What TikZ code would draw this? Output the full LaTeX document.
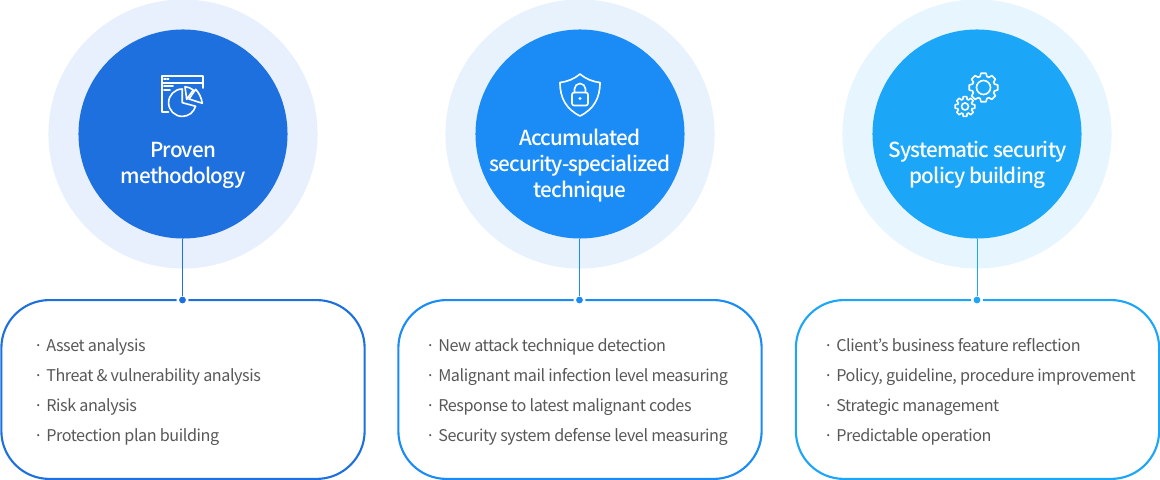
\documentclass[tikz,border=0pt]{standalone}
\usepackage{fontspec}
\setmainfont[LetterSpace=-2.7]{Noto Sans CJK KR}
\newfontfamily\ttlfont[LetterSpace=-4]{Noto Sans CJK KR Medium}
\usetikzlibrary{positioning,calc}
\definecolor{ink}{HTML}{585858}
\definecolor{cblue}{HTML}{1F70DF}
\definecolor{cazure}{HTML}{1B8CF6}
\definecolor{csky}{HTML}{1BA6F8}
\definecolor{hblue}{HTML}{E7F0FC}
\definecolor{hazure}{HTML}{E7F2FD}
\definecolor{hsky}{HTML}{E6F5FE}
\tikzset{
  halo/.style={circle, draw=none, minimum size=6.725cm, inner sep=0pt},
  disc/.style={circle, draw=none, minimum size=5.225cm, inner sep=0pt},
  ttl/.style={text=white, align=center, inner sep=0pt, font=\ttlfont\fontsize{14.7}{18.5}\selectfont},
  card/.style={draw, fill=white, line width=1.5pt, rounded corners=1.2cm, minimum width=9.08cm,
               minimum height=4.47cm, inner sep=0pt},
  lst/.style={text=ink, align=left, anchor=west, inner sep=0pt, font=\fontsize{11.5}{21.33}\selectfont},
  hole/.style={circle, fill=white, draw=none, minimum size=0.3cm, inner sep=0pt},
  dot/.style={circle, draw=none, minimum size=0.17cm, inner sep=0pt},
  stem/.style={line width=0.7pt},
  icn/.style={draw=white, line width=1.15pt, line cap=round, line join=round},
}
\newcommand{\itm}[1]{\makebox[0.3125cm][l]{·}#1}
% gear outline: x, y, body radius, tooth radius, hole radius
\newcommand{\gearicon}[5]{
  \begin{scope}[shift={(#1,#2)}]
    \foreach \a in {0,45,...,315}
      \draw[icn] (\a-17:#3) -- (\a-10:#4) -- (\a+10:#4) -- (\a+17:#3) arc[start angle=\a+17, end angle=\a+28, radius=#3];
    \draw[icn] (0,0) circle (#5);
  \end{scope}
}
\begin{document}
\begin{tikzpicture}[x=0.025cm,y=0.025cm]
  \useasboundingbox (0,0) rectangle (1160,480);
  % circles
  \node[halo, fill=hblue]  (h1) at (183,346) {};
  \node[halo, fill=hazure] (h2) at (580,346) {};
  \node[halo, fill=hsky]   (h3) at (977,346) {};
  \node[disc, fill=cblue]  (c1) at (183,346) {};
  \node[disc, fill=cazure] (c2) at (580,346) {};
  \node[disc, fill=csky]   (c3) at (977,346) {};
  % titles
  \node[ttl] (t1) at (183,315) {Proven\\methodology};
  \node[ttl] (t2) at (580,314.5) {Accumulated\\security-specialized\\technique};
  \node[ttl] (t3) at (977.5,315) {Systematic security\\policy building};
  % cards
  \node[card, draw=cblue]  (b1) at (183,90.5) {};
  \node[card, draw=cazure] (b2) at (580,90.5) {};
  \node[card, draw=csky]   (b3) at (977.5,90.5) {};
  % connectors
  \node[hole] (o1) at (182.5,180) {};
  \node[hole] (o2) at (579.5,180) {};
  \node[hole] (o3) at (977,180) {};
  \node[dot, fill=cblue]  (d1) at (182.5,180) {};
  \node[dot, fill=cazure] (d2) at (579.5,180) {};
  \node[dot, fill=csky]   (d3) at (977,180) {};
  \draw[stem, draw=cblue]  (d1 |- c1.south) -- (d1);
  \draw[stem, draw=cazure] (d2 |- c2.south) -- (d2);
  \draw[stem, draw=csky]   (d3 |- c3.south) -- (d3);
  % lists
  \node[lst] (l1) at (33.5,88) {\itm{Asset analysis}\\\itm{Threat \& vulnerability analysis}\\\itm{Risk analysis}\\\itm{Protection plan building}};
  \node[lst] (l2) at (425.5,88) {\itm{New attack technique detection}\\\itm{Malignant mail infection level measuring}\\\itm{Response to latest malignant codes}\\\itm{Security system defense level measuring}};
  \node[lst] (l3) at (823.5,88) {\itm{Client’s business feature reflection}\\\itm{Policy, guideline, procedure improvement}\\\itm{Strategic management}\\\itm{Predictable operation}};
  % window and pie icon
  \draw[icn] (168.5,368) -- (162,368) -- (162,404) -- (203,404) -- (203,392);
  \draw[icn] (162,397.3) -- (203,397.3);
  \draw[icn, densely dotted] (164,400.7) -- (170,400.7);
  \draw[icn] (164,393.8) -- (173,393.8) (164,390) -- (170,390);
  \draw[icn] (182.3,391) arc[start angle=90, end angle=345, radius=13.7] -- (182.3,377.3) -- cycle;
  \draw[icn] (185,393.3) to[bend left=15] (193.3,390) -- (186.7,380.7) -- cycle;
  \draw[icn] (195.7,390.7) to[bend left=15] (202.3,376.7) -- (189,381) -- cycle;
  % shield icon
  \draw[icn] (580,406) .. controls (586,401) and (592,398.5) .. (600,397.5) .. controls (600,382) and (594,371) .. (580,364) .. controls (566,371) and (560,382) .. (560,397.5) .. controls (568,398.5) and (574,401) .. (580,406) -- cycle;
  \draw[icn, rounded corners=1.5pt] (572,374.5) rectangle (588,387.5);
  \draw[icn] (574.5,387.5) -- (574.5,391) arc[start angle=180, end angle=0, radius=5.5] -- (585.5,387.5);
  \node[circle, fill=white, minimum size=0.08cm, inner sep=0pt] (k) at (580,381.5) {};
  % gear icon
  \gearicon{983.5}{392.5}{11.5}{14.5}{7}
  \gearicon{965}{373.5}{7.5}{10}{3.5}
\end{tikzpicture}
\end{document}
